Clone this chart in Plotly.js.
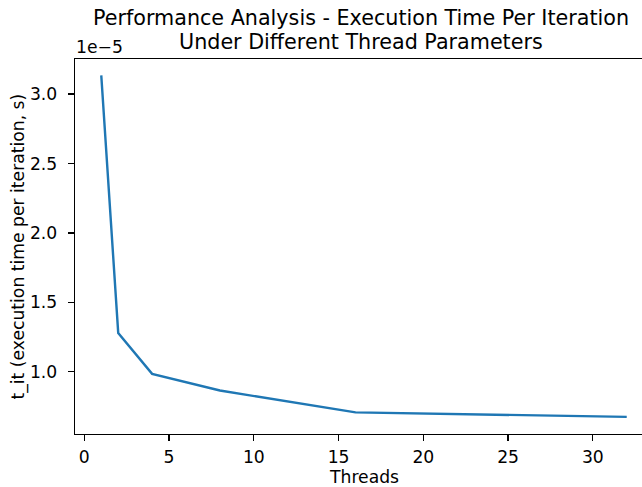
<!DOCTYPE html>
<html>
<head>
<meta charset="utf-8">
<script src="https://cdn.plot.ly/plotly-3.0.1.min.js"></script>
<style>
html,body{margin:0;padding:0;width:642px;height:487px;overflow:hidden;background:#fff;}
#chart{width:660px;height:487px;}
</style>
</head>
<body>
<div id="chart"></div>
<script>
const threads = [1, 2, 4, 8, 16, 32];
const tIt = [3.135e-5, 1.28e-5, 0.985e-5, 0.865e-5, 0.708e-5, 0.675e-5];
const scale = 1e-5;
const xTicks = [0, 5, 10, 15, 20, 25, 30];
const yTicks = [1.0, 1.5, 2.0, 2.5, 3.0];

const font = "DejaVu Sans, sans-serif";
const fs = 17.2;
const trace = {
  x: threads,
  y: tIt.map(v => v / scale),
  type: 'scatter',
  mode: 'lines',
  line: {color: '#1f77b4', width: 2.4},
  hoverinfo: 'skip'
};
const axisCommon = {
  showgrid: false, zeroline: false, showline: true, mirror: true,
  linecolor: '#000', linewidth: 1.3, ticks: 'outside', ticklen: 6, tickwidth: 1.3,
  tickcolor: '#000', tickfont: {family: font, size: fs, color: '#000'}
};
const layout = {
  width: 660, height: 487,
  margin: {l: 75, r: 7, t: 59, b: 53},
  paper_bgcolor: '#fff', plot_bgcolor: '#fff',
  showlegend: false,
  font: {family: font, color: '#000'},
  xaxis: Object.assign({}, axisCommon, {
    range: [-0.55, 33.55], tickvals: xTicks, ticktext: xTicks.map(String),
    ticklabelstandoff: 1
  }),
  yaxis: Object.assign({}, axisCommon, {
    range: [0.552, 3.253], tickvals: yTicks, ticktext: yTicks.map(v => v.toFixed(1)),
    ticklabelstandoff: 7
  }),
  annotations: [
    {text: 'Performance Analysis - Execution Time Per Iteration',
     xref: 'paper', yref: 'paper', x: 0.5, y: 1 + 41/375, yanchor: 'middle', xshift: -3,
     showarrow: false, font: {family: font, size: 20.7, color: '#000'}},
    {text: 'Under Different Thread Parameters',
     xref: 'paper', yref: 'paper', x: 0.5, y: 1 + 17/375, yanchor: 'middle', xshift: -3,
     showarrow: false, font: {family: font, size: 20.7, color: '#000'}},
    {text: '1e\u22125', xref: 'paper', yref: 'paper', x: 0, y: 1 + 12/375, xanchor: 'left', yanchor: 'middle',
     xshift: -1, showarrow: false, font: {family: font, size: fs, color: '#000'}},
    {text: 'Threads', xref: 'paper', yref: 'paper', x: 0.5, y: -43/375, yanchor: 'middle',
     showarrow: false, font: {family: font, size: fs, color: '#000'}},
    {text: 't_it (execution time per iteration, s)', xref: 'paper', yref: 'paper', x: 0, y: 0.5,
     xanchor: 'center', yanchor: 'middle', xshift: -57, textangle: -90,
     showarrow: false, font: {family: font, size: fs, color: '#000'}}
  ]
};
Plotly.newPlot('chart', [trace], layout, {displayModeBar: false, staticPlot: true});
</script>
</body>
</html>
